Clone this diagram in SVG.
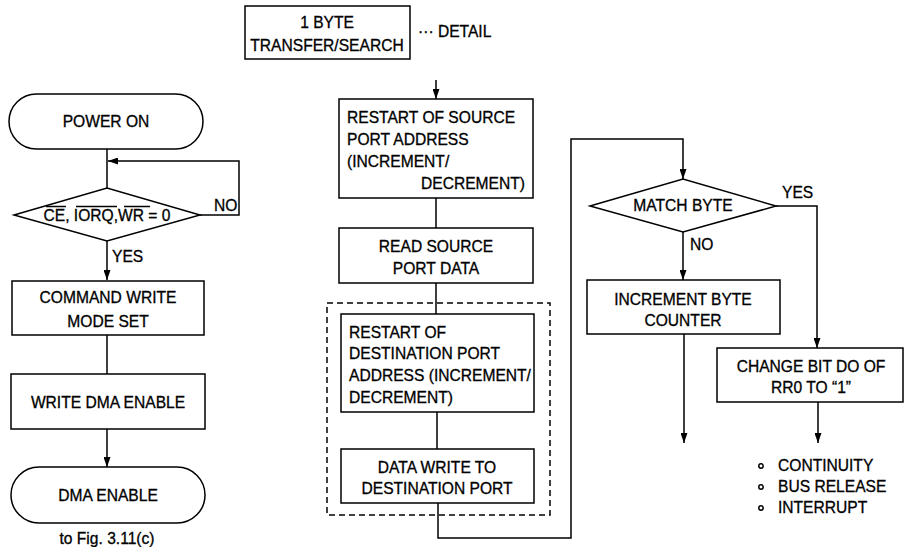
<svg xmlns="http://www.w3.org/2000/svg" width="905" height="547" viewBox="0 0 905 547">
<defs>
<style>
.b{fill:#fff;stroke:#000;stroke-width:1.5}
.l{fill:none;stroke:#000;stroke-width:1.5}
.d{fill:none;stroke:#000;stroke-width:1.5;stroke-dasharray:6,4}
text{font-family:"Liberation Sans",Arial,sans-serif;font-size:15.6px;fill:#000;stroke:#000;stroke-width:0.3}
.c{text-anchor:middle}
</style>
<marker id="ah" markerUnits="userSpaceOnUse" markerWidth="10" markerHeight="7" refX="10" refY="3.5" orient="auto">
<path d="M0,0 L10,3.5 L0,7 z" fill="#000"/>
</marker>
</defs>
<rect width="905" height="547" fill="#fff"/>

<g id="connectors">
<path class="l" d="M107,149 V188"/>
<path class="l" d="M200,215 H239 V161 H108" marker-end="url(#ah)"/>
<path class="l" d="M107,241 V280" marker-end="url(#ah)"/>
<path class="l" d="M107,335 V374"/>
<path class="l" d="M107,429 V467" marker-end="url(#ah)"/>
<path class="l" d="M436,80 V99" marker-end="url(#ah)"/>
<path class="l" d="M436,198 V228"/>
<path class="l" d="M436,283 V314"/>
<path class="l" d="M437,412 V449"/>
<path class="l" d="M438,503 V538 H571 V139 H683 V179" marker-end="url(#ah)"/>
<path class="l" d="M683,232 V280" marker-end="url(#ah)"/>
<path class="l" d="M776,206 H817 V348" marker-end="url(#ah)"/>
<path class="l" d="M684,334 V443" marker-end="url(#ah)"/>
<path class="l" d="M818,402 V443" marker-end="url(#ah)"/>
</g>

<g id="power-on">
<rect class="b" x="9" y="94" width="194" height="55" rx="27.5"/>
<text class="c" x="106" y="127">POWER ON</text>
</g>
<g id="decision-ce">
<polygon class="b" points="14,215 107,188 200,215 107,241"/>
<text class="c" x="107" y="221">CE, IORQ,WR = 0</text>
<path class="l" stroke-width="1.1" d="M46,206.5 H66 M76,206.5 H117 M124,206.5 H150"/>
<text x="214" y="211">NO</text>
<text x="112" y="262">YES</text>
</g>
<g id="command-write">
<rect class="b" x="12" y="281" width="192" height="54"/>
<text class="c" x="108" y="303">COMMAND WRITE</text>
<text class="c" x="108" y="327">MODE SET</text>
</g>
<g id="write-dma">
<rect class="b" x="11" y="374" width="194" height="55"/>
<text class="c" x="108" y="408">WRITE DMA ENABLE</text>
</g>
<g id="dma-enable">
<rect class="b" x="11" y="467" width="194" height="56" rx="28"/>
<text class="c" x="108" y="501">DMA ENABLE</text>
<text class="c" x="107" y="544">to Fig. 3.11(c)</text>
</g>

<g id="transfer-search">
<rect class="b" x="245" y="6" width="165" height="53"/>
<text class="c" x="327" y="28">1 BYTE</text>
<text class="c" x="327" y="51">TRANSFER/SEARCH</text>
<text x="418" y="37">··· DETAIL</text>
</g>
<g id="restart-source">
<rect class="b" x="339" y="99" width="194" height="99"/>
<text x="347" y="123">RESTART OF SOURCE</text>
<text x="347" y="145">PORT ADDRESS</text>
<text x="347" y="167">(INCREMENT/</text>
<text x="525" y="189" text-anchor="end">DECREMENT)</text>
</g>
<g id="read-source">
<rect class="b" x="339" y="228" width="194" height="55"/>
<text class="c" x="436" y="252">READ SOURCE</text>
<text class="c" x="436" y="274">PORT DATA</text>
</g>
<g id="dest-group">
<rect class="d" x="327" y="303" width="223" height="212"/>
</g>
<g id="restart-dest">
<rect class="b" x="341" y="314" width="193" height="98"/>
<text x="349" y="338">RESTART OF</text>
<text x="349" y="359">DESTINATION PORT</text>
<text x="349" y="381">ADDRESS (INCREMENT/</text>
<text x="349" y="403">DECREMENT)</text>
</g>
<g id="data-write">
<rect class="b" x="341" y="449" width="193" height="54"/>
<text class="c" x="437" y="473">DATA WRITE TO</text>
<text class="c" x="437" y="494">DESTINATION PORT</text>
</g>

<g id="match-byte">
<polygon class="b" points="590,206 683,179 776,206 683,232"/>
<text class="c" x="683" y="211">MATCH BYTE</text>
<text x="782" y="198">YES</text>
<text x="690" y="250">NO</text>
</g>
<g id="increment-counter">
<rect class="b" x="587" y="280" width="193" height="54"/>
<text class="c" x="683" y="305">INCREMENT BYTE</text>
<text class="c" x="683" y="326">COUNTER</text>
</g>
<g id="change-bit">
<rect class="b" x="717" y="348" width="186" height="54"/>
<text class="c" x="811" y="372">CHANGE BIT DO OF</text>
<text class="c" x="811" y="393">RR0 TO “1”</text>
</g>
<g id="outcomes">
<circle class="l" cx="761" cy="466" r="2.2" stroke-width="1.2"/>
<circle class="l" cx="761" cy="487" r="2.2" stroke-width="1.2"/>
<circle class="l" cx="761" cy="508" r="2.2" stroke-width="1.2"/>
<text x="778" y="471">CONTINUITY</text>
<text x="778" y="492">BUS RELEASE</text>
<text x="778" y="513">INTERRUPT</text>
</g>
</svg>
